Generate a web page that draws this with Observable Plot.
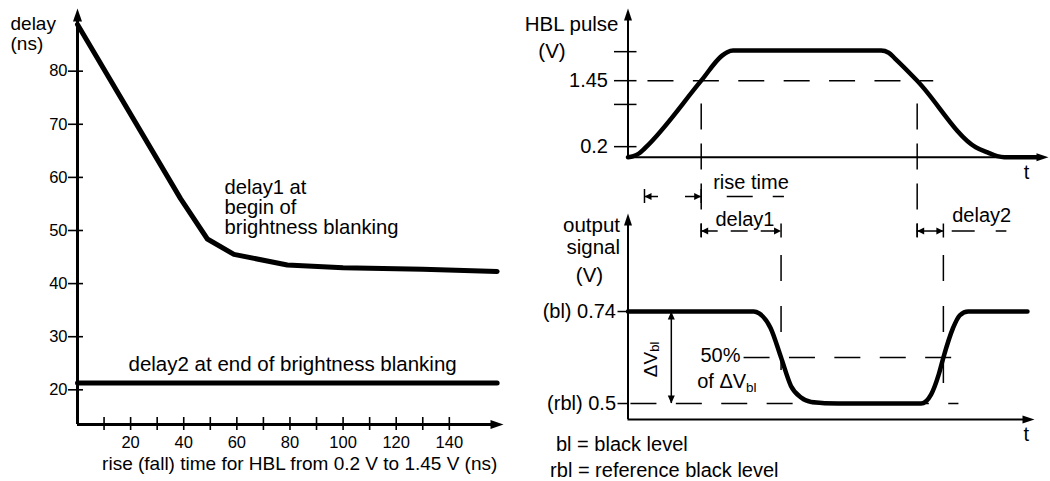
<!DOCTYPE html>
<html><head><meta charset="utf-8">
<script src="https://cdn.jsdelivr.net/npm/d3@7"></script>
<script src="https://cdn.jsdelivr.net/npm/@observablehq/plot@0.6"></script>
<style>
body{margin:0;background:#fff;}
#wrap{position:relative;width:1050px;height:481px;overflow:hidden;background:#fff;}
#wrap svg{position:absolute;overflow:visible;background:transparent;}
</style></head><body><div id="wrap"></div>
<script>
// ---------- data ----------
// left chart: delay vs rise (fall) time
const riseTimes = [0, 38.8, 48.9, 58.9, 79, 100, 130, 158];
const delay1Ns  = [88.8, 56, 48.4, 45.5, 43.5, 43.0, 42.7, 42.3];
const delay2Times = [0, 158];
const delay2Ns    = [21.3, 21.3];
const delayTicks = [20, 30, 40, 50, 60, 70, 80];
const riseTicks  = [10, 20, 30, 40, 50, 60, 70, 80, 90, 100, 110, 120, 130, 140];
const riseLabels = [20, 40, 60, 80, 100, 120, 140];
// top-right: HBL pulse (schematic time units)
const pulseT = [0, 1.3, 2.6, 4.0, 17.41, 22.3, 23.6, 25.0, 60.2, 62.0, 63.5, 68.77, 82.7, 85.5, 87.8, 89.5, 97.4];
const pulseV = [0, 0.02, 0.07, 0.17, 1.45, 1.92, 1.99, 2.02, 2.02, 1.98, 1.87, 1.45, 0.19, 0.09, 0.02, 0, 0];
const pulseTicks  = [0.2, 1.0, 1.45, 2.0];
const pulseLabels = [0.2, 1.45];
const riseCross = [17.41, 68.77];   // pulse crosses 1.45 V
const lowCross = 3.92;              // pulse crosses 0.2 V
// bottom-right: output signal
const outT = [0, 29.9, 31.2, 33.9, 36.4, 38.75, 41.16, 43.57, 50.0, 69.7, 72.1, 73.9, 75.0, 77.3, 78.9, 80.9, 95.0];
const outV = [0.74, 0.74, 0.735, 0.697, 0.62, 0.546, 0.5155, 0.504, 0.5, 0.5, 0.524, 0.576, 0.62, 0.697, 0.73, 0.74, 0.74];
const outLevels = [0.5, 0.74];
const outLevelNames = ["(rbl) 0.5", "(bl) 0.74"];
const midLevel = 0.62;
const outCross = [36.4, 75.0];      // output crosses 50 %

(function () {
// ---------- helpers ----------
const FONT = "'Liberation Sans', Arial, Helvetica, sans-serif";
const sym = f => ({draw(c) { f(c); }});
const vTick = (u, d) => sym(c => { c.moveTo(0, -u); c.lineTo(0, d); });
const headUp = (L, w) => sym(c => { c.moveTo(0, 0); c.lineTo(-w, L); c.lineTo(w, L); c.closePath(); });
const headDown = (L, w) => sym(c => { c.moveTo(0, 0); c.lineTo(-w, -L); c.lineTo(w, -L); c.closePath(); });
const headRight = (L, w) => sym(c => { c.moveTo(0, 0); c.lineTo(-L, -w); c.lineTo(-L, w); c.closePath(); });
const headLeft = (L, w) => sym(c => { c.moveTo(0, 0); c.lineTo(L, -w); c.lineTo(L, w); c.closePath(); });
const head = (x, y, s) => Plot.dot([0], {x: () => x, y: () => y, symbol: s, fill: "black", stroke: "none"});
const zip = (a, b) => a.map((v, i) => ({x: v, y: b[i]}));
const txt = (s, o) => Plot.text([s], {text: d => d, fontFamily: FONT, fill: "black", ...o});
const style = {fontFamily: FONT, background: "transparent", overflow: "visible"};
const wrap = document.getElementById("wrap");
function place(svg, l, t) { svg.style.left = l + "px"; svg.style.top = t + "px"; wrap.appendChild(svg); }

// ---------- left chart ----------
const LX = [0, 160.4], LY = [13.47, 91.8];
const kx = 426 / (LX[1] - LX[0]), ky = 416 / (LY[1] - LY[0]);   // px per unit
const plotLeft = Plot.plot({
  width: 520, height: 481, marginLeft: 77, marginRight: 17, marginTop: 8, marginBottom: 57,
  x: {domain: LX}, y: {domain: LY}, style,
  marks: [
    Plot.ruleX([0], {y1: LY[0], y2: LY[1] - 1.5, strokeWidth: 3}),
    Plot.ruleY([LY[0]], {x1: 0, x2: LX[1] - 3, strokeWidth: 3}),
    head(0, LY[1], headUp(13, 4.5)),
    head(LX[1], LY[0], headRight(13, 4.5)),
    Plot.ruleY(delayTicks, {x1: -9 / kx, x2: 6 / kx, strokeWidth: 1.6}),
    Plot.ruleX(riseTicks, {y1: LY[0] - 6 / ky, y2: LY[0] + 7 / ky, strokeWidth: 1.6}),
    Plot.axisY(delayTicks, {tickSize: 0, tickPadding: 10, fontSize: 16.5, fontFamily: FONT, label: null}),
    Plot.axisX(riseLabels, {tickSize: 0, tickPadding: 12, fontSize: 16.5, fontFamily: FONT, label: null}),
    Plot.line(zip(riseTimes, delay1Ns), {x: "x", y: "y", strokeWidth: 5, strokeLinejoin: "round"}),
    Plot.line(zip(delay2Times, delay2Ns), {x: "x", y: "y", strokeWidth: 5}),
    txt("delay\n(ns)", {x: 0, y: 83.9, dx: -67, textAnchor: "start", lineAnchor: "bottom", fontSize: 19, lineHeight: 1.1}),
    txt("delay1 at\nbegin of\nbrightness blanking", {x: 55.35, y: 49.38, textAnchor: "start", lineAnchor: "bottom", fontSize: 20.2, lineHeight: 0.98}),
    txt("delay2 at end of brightness blanking", {x: 19.2, y: 23.5, textAnchor: "start", lineAnchor: "bottom", fontSize: 20.5}),
    txt("rise (fall) time for HBL from 0.2 V to 1.45 V (ns)", {x: 83.67, y: 4.94, textAnchor: "middle", lineAnchor: "bottom", fontSize: 19})
  ]
});
place(plotLeft, 0, 0);

// ---------- top-right: HBL pulse ----------
const TX = [0, 100], TY = [0, 2.818];
const tkx = 420.5 / 100, tky = 148.7 / 2.818;
const DASH = "26,19.4";
const plotTop = Plot.plot({
  width: 530, height: 250, marginLeft: 107.5, marginRight: 2, marginTop: 8, marginBottom: 93.3,
  x: {domain: TX, axis: null}, y: {domain: TY}, style,
  marks: [
    Plot.ruleX([0], {y1: 0, y2: TY[1] - 0.15, strokeWidth: 2}),
    Plot.ruleY([0], {x1: 0, x2: TX[1] - 2, strokeWidth: 2}),
    head(0, TY[1], headUp(12, 4)),
    head(TX[1], 0, headRight(12, 4)),
    Plot.ruleY(pulseTicks, {x1: -13.5 / tkx, x2: 9 / tkx, strokeWidth: 1.5}),
    Plot.axisY(pulseLabels, {tickSize: 0, tickPadding: 20, fontSize: 20, fontFamily: FONT, label: null, tickFormat: d => String(d)}),
    Plot.ruleY([1.45], {x1: 4.75, x2: 72.7, strokeWidth: 1.5, strokeDasharray: DASH}),
    Plot.ruleX(riseCross, {y1: 1.01, y2: -1.52, strokeWidth: 1.5, strokeDasharray: "26,14"}),
    Plot.line(zip(pulseT, pulseV), {x: "x", y: "y", strokeWidth: 4.5, curve: "monotone-x"}),
    txt("HBL pulse", {x: 0, y: 2.40, dx: -9.5, textAnchor: "end", lineAnchor: "bottom", fontSize: 20.5}),
    txt("(V)", {x: 0, y: 1.889, dx: -76, textAnchor: "middle", lineAnchor: "bottom", fontSize: 20.5}),
    txt("t", {x: 94.77, y: -0.404, textAnchor: "middle", lineAnchor: "bottom", fontSize: 20}),
    // rise time dimension
    txt("rise time", {x: 20.26, y: -0.599, textAnchor: "start", lineAnchor: "bottom", fontSize: 20}),
    Plot.ruleY([-0.745], {x1: lowCross, x2: 7.25, strokeWidth: 1.5}),
    Plot.ruleY([-0.745], {x1: 13.67, x2: riseCross[0], strokeWidth: 1.5}),
    head(lowCross, -0.745, headLeft(7, 3.5)),
    head(riseCross[0], -0.745, headRight(7, 3.5)),
    Plot.ruleX([lowCross, riseCross[0]], {y1: -0.745 - 7 / tky, y2: -0.745 + 7 / tky, strokeWidth: 1.5}),
    Plot.ruleY([-0.745], {x1: 23.6, x2: 37.2, strokeWidth: 1.5, strokeDasharray: "26,20"})
  ]
});
place(plotTop, 520, 0);

// ---------- bottom-right: output signal ----------
const BX = [0, 96.67], BY = [0.4583, 0.9957];
const bky = 206 / (BY[1] - BY[0]);
const plotBottom = Plot.plot({
  width: 530, height: 281, marginLeft: 107.5, marginRight: 16, marginTop: 13, marginBottom: 62,
  x: {domain: BX, axis: null}, y: {domain: BY}, style,
  marks: [
    Plot.ruleX([0], {y1: BY[0], y2: BY[1] - 0.025, strokeWidth: 2}),
    Plot.ruleY([BY[0]], {x1: 0, x2: BX[1] - 2, strokeWidth: 2}),
    head(0, BY[1], headUp(12, 4)),
    head(BX[1], BY[0], headRight(12, 4)),
    Plot.axisY(outLevels, {tickSize: 10, tickPadding: 2, strokeWidth: 1.5, fontSize: 20, fontFamily: FONT, label: null,
      tickFormat: d => outLevelNames[outLevels.indexOf(d)]}),
    Plot.ruleY([0.5], {x1: 0.7, x2: 78.7, strokeWidth: 1.5, strokeDasharray: DASH}),
    Plot.ruleY([midLevel], {x1: 27.6, x2: 78.7, strokeWidth: 1.5, strokeDasharray: DASH}),
    Plot.ruleX([outCross[0]], {y1: 0.886, y2: 0.586, strokeWidth: 1.5, strokeDasharray: "26,25"}),
    Plot.ruleX([outCross[1]], {y1: 0.886, y2: 0.552, strokeWidth: 1.5, strokeDasharray: "26,25"}),
    Plot.line(zip(outT, outV), {x: "x", y: "y", strokeWidth: 4.5, curve: "monotone-x"}),
    // delta V arrow
    Plot.ruleX([10.3], {y1: 0.5, y2: 0.74, strokeWidth: 1.5}),
    head(10.3, 0.74, headUp(8, 3.5)),
    head(10.3, 0.5, headDown(8, 3.5)),
    txt("ΔV", {x: 5.42, y: 0.5686, rotate: -90, textAnchor: "start", lineAnchor: "middle", fontSize: 19}),
    txt("bl", {x: 5.42, y: 0.5686, dx: 4.5, dy: -25.4, rotate: -90, textAnchor: "start", lineAnchor: "middle", fontSize: 13}),
    txt("50%", {x: 17.24, y: 0.6095, textAnchor: "start", lineAnchor: "bottom", fontSize: 20}),
    txt("of ΔV", {x: 16.46, y: 0.5417, textAnchor: "start", lineAnchor: "bottom", fontSize: 20}),
    txt("bl", {x: 16.46, y: 0.5417, dx: 48.9, dy: 4, textAnchor: "start", lineAnchor: "bottom", fontSize: 13.5}),
    // labels
    txt("output\nsignal", {x: 0, y: 0.8905, dx: -8, textAnchor: "end", lineAnchor: "bottom", fontSize: 20.5, lineHeight: 1.05}),
    txt("(V)", {x: 0, y: 0.8164, dx: -38.5, textAnchor: "middle", lineAnchor: "bottom", fontSize: 20.5}),
    txt("bl = black level", {x: 0, y: 0.3774, dx: -72, textAnchor: "start", lineAnchor: "bottom", fontSize: 20}),
    txt("rbl = reference black level", {x: 0, y: 0.3086, dx: -77.9, textAnchor: "start", lineAnchor: "bottom", fontSize: 20}),
    txt("t", {x: 94.7, y: 0.4035, textAnchor: "middle", lineAnchor: "bottom", fontSize: 20}),
    // delay1 dimension
    txt("delay1", {x: 20.8, y: 0.964, textAnchor: "start", lineAnchor: "bottom", fontSize: 20}),
    Plot.ruleY([0.95], {x1: riseCross[0], x2: outCross[0], strokeWidth: 1.5, strokeDasharray: "17,13"}),
    head(riseCross[0], 0.95, headLeft(7, 3.5)),
    head(outCross[0], 0.95, headRight(7, 3.5)),
    Plot.ruleX([riseCross[0], outCross[0]], {y1: 0.95 - 7 / bky, y2: 0.95 + 7 / bky, strokeWidth: 1.5}),
    // delay2 dimension
    txt("delay2", {x: 77.1, y: 0.973, textAnchor: "start", lineAnchor: "bottom", fontSize: 20}),
    Plot.ruleY([0.95], {x1: riseCross[1], x2: outCross[1], strokeWidth: 1.5}),
    head(riseCross[1], 0.95, headLeft(7, 3.5)),
    head(outCross[1], 0.95, headRight(7, 3.5)),
    Plot.ruleX([riseCross[1], outCross[1]], {y1: 0.95 - 7 / bky, y2: 0.95 + 7 / bky, strokeWidth: 1.5}),
    Plot.ruleY([0.95], {x1: 77.1, x2: 90.1, strokeWidth: 1.5, strokeDasharray: "23,21"})
  ]
});
place(plotBottom, 520, 200);
})();
</script></body></html>
